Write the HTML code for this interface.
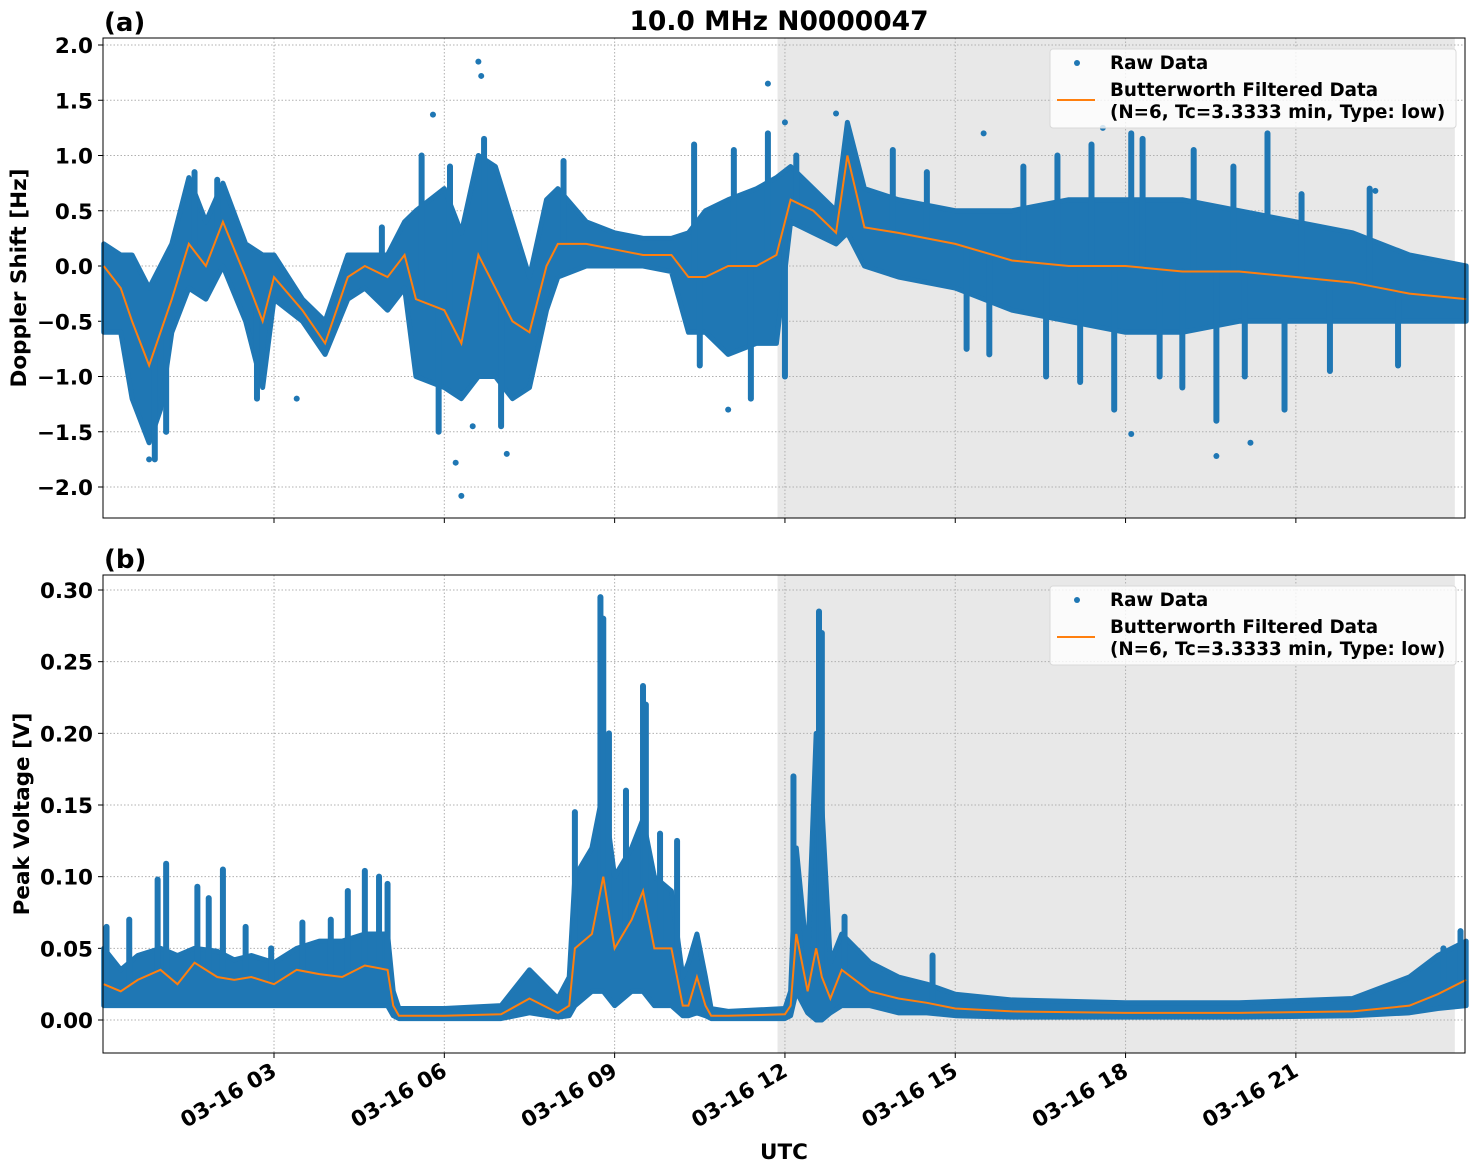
<!DOCTYPE html>
<html><head><meta charset="utf-8"><style>
body{margin:0;background:#fff}
svg{display:block;font-family:"DejaVu Sans","Liberation Sans",sans-serif;font-weight:bold}
</style></head><body>
<svg id="chart" width="1474" height="1172" viewBox="0 0 1474 1172"></svg>
<script>
// ---- data (hours UTC) ----
const tA = [0,0.3,0.5,0.8,1.0,1.2,1.5,1.8,2.1,2.5,2.8,3.0,3.5,3.9,4.3,4.6,5.0,5.3,5.5,6.0,6.3,6.6,6.9,7.2,7.5,7.8,8.0,8.5,9.0,9.5,10.0,10.3,10.6,11.0,11.5,11.85,12.1,12.5,12.9,13.1,13.4,14.0,15.0,16.0,17.0,18.0,19.0,20.0,21.0,22.0,23.0,24.0];
const filtA = [0,-0.2,-0.5,-0.9,-0.6,-0.3,0.2,0.0,0.4,-0.1,-0.5,-0.1,-0.4,-0.7,-0.1,0.0,-0.1,0.1,-0.3,-0.4,-0.7,0.1,-0.2,-0.5,-0.6,0.0,0.2,0.2,0.15,0.1,0.1,-0.1,-0.1,0.0,0.0,0.1,0.6,0.5,0.3,1.0,0.35,0.3,0.2,0.05,0.0,0.0,-0.05,-0.05,-0.1,-0.15,-0.25,-0.3];
const hiA = [0.2,0.1,0.1,-0.2,0.0,0.2,0.8,0.4,0.75,0.2,0.1,0.1,-0.3,-0.5,0.1,0.1,0.1,0.4,0.5,0.7,0.3,1.0,0.9,0.4,-0.1,0.6,0.7,0.4,0.3,0.25,0.25,0.3,0.5,0.6,0.7,0.8,0.9,0.7,0.5,1.3,0.7,0.6,0.5,0.5,0.6,0.6,0.6,0.5,0.4,0.3,0.1,0.0];
const loA = [-0.6,-0.6,-1.2,-1.6,-1.3,-0.6,-0.2,-0.3,0.0,-0.5,-1.1,-0.3,-0.5,-0.8,-0.3,-0.2,-0.4,-0.2,-1.0,-1.1,-1.2,-1.0,-1.0,-1.2,-1.1,-0.4,-0.1,0.0,0.0,0.0,-0.05,-0.6,-0.6,-0.8,-0.7,-0.7,0.4,0.3,0.2,0.3,0.0,-0.1,-0.2,-0.4,-0.5,-0.6,-0.6,-0.5,-0.5,-0.5,-0.5,-0.5];
const spikeTA = [0.9,1.1,1.6,2.0,2.7,4.9,5.6,5.9,6.1,6.7,7.0,8.1,10.4,10.5,11.1,11.4,11.7,12.0,12.2,13.9,14.5,15.2,15.6,16.2,16.6,16.8,17.2,17.4,17.8,18.1,18.3,18.6,19.0,19.2,19.6,19.9,20.1,20.5,20.8,21.1,21.6,22.3,22.8];
const spikeVA = [-1.75,-1.5,0.85,0.78,-1.2,0.35,1.0,-1.5,0.9,1.15,-1.45,0.95,1.1,-0.9,1.05,-1.2,1.2,-1.0,1.0,1.05,0.85,-0.75,-0.8,0.9,-1.0,1.0,-1.05,1.1,-1.3,1.2,1.15,-1.0,-1.1,1.05,-1.4,0.9,-1.0,1.2,-1.3,0.65,-0.95,0.7,-0.9];
const outTA = [0.8,1.1,3.4,6.3,6.6,6.65,6.2,5.8,7.1,11.7,12.9,15.5,17.6,18.1,19.6,20.2,22.4,11.0,12.0,6.5];
const outVA = [-1.75,-1.5,-1.2,-2.08,1.85,1.72,-1.78,1.37,-1.7,1.65,1.38,1.2,1.25,-1.52,-1.72,-1.6,0.68,-1.3,1.3,-1.45];
const tB = [0,0.3,0.6,1.0,1.3,1.6,2.0,2.3,2.6,3.0,3.4,3.8,4.2,4.6,5.0,5.1,5.2,6.0,7.0,7.5,8.0,8.2,8.3,8.6,8.8,9.0,9.3,9.5,9.7,10.0,10.2,10.3,10.45,10.6,10.7,11.0,12.0,12.1,12.2,12.4,12.55,12.65,12.8,13.0,13.5,14.0,14.5,15.0,16.0,18.0,20.0,22.0,23.0,23.5,24.0];
const filtB = [0.025,0.02,0.028,0.035,0.025,0.04,0.03,0.028,0.03,0.025,0.035,0.032,0.03,0.038,0.035,0.01,0.003,0.003,0.004,0.015,0.005,0.01,0.05,0.06,0.10,0.05,0.07,0.09,0.05,0.05,0.01,0.01,0.03,0.01,0.003,0.003,0.004,0.01,0.06,0.02,0.05,0.03,0.015,0.035,0.02,0.015,0.012,0.008,0.006,0.005,0.005,0.006,0.01,0.018,0.028];
const hiB = [0.05,0.035,0.045,0.05,0.045,0.05,0.048,0.042,0.045,0.04,0.05,0.055,0.055,0.06,0.06,0.02,0.008,0.008,0.01,0.035,0.015,0.03,0.1,0.12,0.16,0.1,0.12,0.14,0.1,0.09,0.03,0.04,0.06,0.03,0.008,0.006,0.008,0.02,0.12,0.04,0.2,0.15,0.04,0.06,0.04,0.03,0.025,0.018,0.014,0.012,0.012,0.015,0.03,0.045,0.055];
const loB = [0.01,0.01,0.01,0.01,0.01,0.01,0.01,0.01,0.01,0.01,0.01,0.01,0.01,0.01,0.01,0.003,0.001,0.001,0.001,0.005,0.002,0.003,0.01,0.02,0.02,0.01,0.02,0.02,0.01,0.01,0.003,0.003,0.005,0.003,0.001,0.001,0.001,0.003,0.02,0.005,0.0,0.0,0.005,0.01,0.01,0.005,0.005,0.003,0.002,0.002,0.002,0.003,0.005,0.008,0.01];
const spikeTB = [0.05,0.45,0.95,1.1,1.65,1.85,2.1,2.5,2.95,3.5,4.0,4.3,4.6,4.85,5.0,8.3,8.75,8.8,8.9,9.2,9.5,9.55,9.8,10.1,12.15,12.6,12.65,13.05,14.6,23.6,23.9];
const spikeVB = [0.065,0.07,0.098,0.109,0.093,0.085,0.105,0.065,0.05,0.068,0.07,0.09,0.104,0.1,0.095,0.145,0.295,0.28,0.2,0.16,0.233,0.22,0.13,0.125,0.17,0.285,0.27,0.072,0.045,0.05,0.062];
const tickHours = [3,6,9,12,15,18,21];
const tickLabels = ["03-16 03","03-16 06","03-16 09","03-16 12","03-16 15","03-16 18","03-16 21"];
const yTicksA = [-2.0,-1.5,-1.0,-0.5,0.0,0.5,1.0,1.5,2.0];
const yTickLabA = ["\u22122.0","\u22121.5","\u22121.0","\u22120.5","0.0","0.5","1.0","1.5","2.0"];
const yTicksB = [0,0.05,0.10,0.15,0.20,0.25,0.30];
const yTickLabB = ["0.00","0.05","0.10","0.15","0.20","0.25","0.30"];
const shadeStart = 11.87, shadeEnd = 23.8;

const NS="http://www.w3.org/2000/svg";
const svg=document.getElementById('chart');
function mk(tag,attrs,parent){const e=document.createElementNS(NS,tag);for(const k in attrs)e.setAttribute(k,attrs[k]);(parent||svg).appendChild(e);return e;}
const X0=103.7,PXH=56.77;
const xs=h=>X0+h*PXH;
const L=103,R=1465;
function interp(t,arr,h){for(let i=1;i<t.length;i++){if(h<=t[i]){const f=(h-t[i-1])/(t[i]-t[i-1]);return arr[i-1]+f*(arr[i]-arr[i-1]);}}return arr[arr.length-1];}

function panel(top,bot,yfun,yTicks,yLabs,t,filt,hi,lo,sT,sV,oT,oV,tag,ylabel,showX){
  const g=mk('g',{});
  
  
  const sh=mk('rect',{x:xs(shadeStart),y:top,width:xs(shadeEnd)-xs(shadeStart),height:bot-top,fill:'#e8e8e8'},g);
  
  
  tickHours.forEach(h=>{mk('line',{x1:xs(h),x2:xs(h),y1:top,y2:bot,stroke:'#b0b0b0','stroke-width':1,'stroke-dasharray':'1.5,2'},g);});
  yTicks.forEach((v,i)=>{const y=yfun(v);
    mk('line',{x1:L,x2:R,y1:y,y2:y,stroke:'#b0b0b0','stroke-width':1,'stroke-dasharray':'1.5,2'},g);
    mk('line',{x1:L-5,x2:L,y1:y,y2:y,stroke:'#000'},g);
    const tx=mk('text',{x:L-10,y:y+8,'text-anchor':'end','font-size':21.5},g);tx.textContent=yLabs[i];
    
    
  });
  let pts=t.map((h,i)=>xs(h)+','+yfun(hi[i])).concat(t.map((h,i)=>xs(h)+','+yfun(lo[i])).reverse());
  const band=mk('polygon',{points:pts.join(' '),fill:'#1f77b4',stroke:'#1f77b4','stroke-width':5,'stroke-linejoin':'round'},g);
  
  
  sT.forEach((h,i)=>{const base=interp(t,filt,h);
    const s=mk('line',{x1:xs(h),x2:xs(h),y1:yfun(base),y2:yfun(sV[i]),stroke:'#1f77b4','stroke-width':6,'stroke-linecap':'round'},g);
    
    });
  oT.forEach((h,i)=>{const c=mk('circle',{cx:xs(h),cy:yfun(oV[i]),r:3,fill:'#1f77b4'},g);
    
    });
  const fl=mk('polyline',{points:t.map((h,i)=>xs(h)+','+yfun(filt[i])).join(' '),fill:'none',stroke:'#ff7f0e','stroke-width':2},g);
  
  
  mk('rect',{x:L,y:top,width:R-L,height:bot-top,fill:'none',stroke:'#000','stroke-width':1},g);
  tickHours.forEach((h,i)=>{mk('line',{x1:xs(h),x2:xs(h),y1:bot,y2:bot+5,stroke:'#000'},g);
    if(showX){const tx=mk('text',{x:xs(h)+4,y:bot+22,'text-anchor':'end','font-size':21.5,transform:`rotate(-30 ${xs(h)+4} ${bot+22})`},g);tx.textContent=tickLabels[i];
      
      }
  });
  const yl=mk('text',{x:0,y:0,'text-anchor':'middle','font-size':21.5,transform:`translate(${tag==='a'?26:29},${(top+bot)/2}) rotate(-90)`},g);yl.textContent=ylabel;
  
  
  const pl=mk('text',{x:104,y:top-7,'font-size':26},g);pl.textContent='('+tag+')';
  
  
  const lg=mk('g',{},g);
  
  
  const ly=top+11;
  mk('rect',{x:1050,y:ly,width:406,height:79,rx:3,fill:'#fff','fill-opacity':0.8,stroke:'#d8d8d8'},lg);
  mk('circle',{cx:1077,cy:ly+14,r:3,fill:'#1f77b4'},lg);
  const t1=mk('text',{x:1110,y:ly+20,'font-size':18.3},lg);t1.textContent='Raw Data';
  mk('line',{x1:1057,x2:1095,y1:ly+51,y2:ly+51,stroke:'#ff7f0e','stroke-width':2},lg);
  const t2=mk('text',{x:1110,y:ly+47,'font-size':18.3},lg);t2.textContent='Butterworth Filtered Data';
  const t3=mk('text',{x:1110,y:ly+69,'font-size':18.3},lg);t3.textContent='(N=6, Tc=3.3333 min, Type: low)';
}
const yA=v=>45+(2.0-v)*110.5;
const yB=v=>1020-v*(430/0.3);
panel(38,518,yA,yTicksA,yTickLabA,tA,filtA,hiA,loA,spikeTA,spikeVA,outTA,outVA,'a','Doppler Shift [Hz]',false);
panel(575,1053,yB,yTicksB,yTickLabB,tB,filtB,hiB,loB,spikeTB,spikeVB,[],[],'b','Peak Voltage [V]',true);
const ti=mk('text',{x:779,y:30,'text-anchor':'middle','font-size':26.5});ti.textContent='10.0 MHz N0000047';


const xt=mk('text',{x:784,y:1159,'text-anchor':'middle','font-size':21.5});xt.textContent='UTC';


</script>
</body></html>
